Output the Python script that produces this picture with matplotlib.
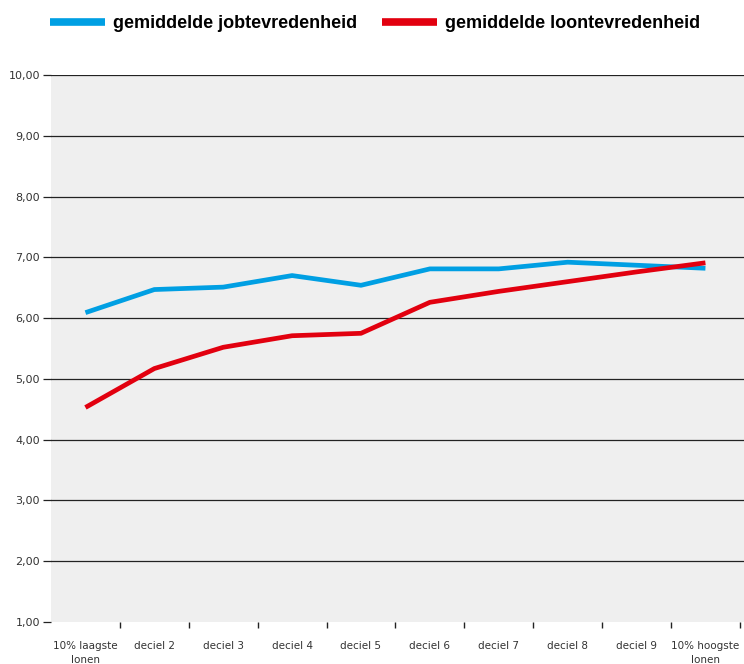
import numpy as np
import matplotlib.pyplot as plt
from matplotlib.lines import Line2D

# tevredenheid per loondeciel
categories = ['10% laagste\nlonen', 'deciel 2', 'deciel 3', 'deciel 4', 'deciel 5',
              'deciel 6', 'deciel 7', 'deciel 8', 'deciel 9', '10% hoogste\nlonen']
job = [6.09, 6.47, 6.51, 6.70, 6.54, 6.81, 6.81, 6.92, 6.87, 6.82]
loon = [4.53, 5.17, 5.52, 5.71, 5.75, 6.26, 6.44, 6.60, 6.76, 6.91]
yticks = [1, 2, 3, 4, 5, 6, 7, 8, 9, 10]

blue = '#009fe3'
red = '#e2000f'

fig = plt.figure(figsize=(7.44, 6.64), dpi=100)
ax = fig.add_axes([51/744, 42/664, 693/744, 547/664])
ax.set_facecolor('#efefef')

x = np.arange(len(categories))
for v in yticks[1:]:
    ax.axhline(v, color='#222222', lw=0.9, zorder=1)

ax.plot(x, job, color=blue, lw=3.4, zorder=3, solid_capstyle='butt')
ax.plot(x, loon, color=red, lw=3.4, zorder=4, solid_capstyle='butt')

ax.set_xlim(-0.5, 9.56)
ax.set_ylim(1, 10)
for s in ax.spines.values():
    s.set_visible(False)

ax.set_yticks(yticks)
ax.set_yticklabels([f'{v:.2f}'.replace('.', ',') for v in yticks])
ax.tick_params(axis='y', length=6, width=0.9, color='#222222', pad=2,
               labelsize=8, labelcolor='#333333')

ax.set_xticks(x)
ax.set_xticklabels(categories)
ax.set_xticks(np.arange(0.5, 10, 1), minor=True)
ax.tick_params(axis='x', which='major', length=0, pad=14, labelsize=7.5,
               labelcolor='#333333')
ax.tick_params(axis='x', which='minor', length=4.5, width=1, color='#222222')
for lbl in ax.get_xticklabels():
    lbl.set_linespacing(1.4)

handles = [Line2D([], [], color=blue, lw=5.5, solid_capstyle='butt'),
           Line2D([], [], color=red, lw=5.5, solid_capstyle='butt')]
fig.legend(handles, ['gemiddelde jobtevredenheid', 'gemiddelde loontevredenheid'],
           loc='center left', bbox_to_anchor=(50/744, 1 - 24/664), ncol=2,
           frameon=False, borderpad=0, borderaxespad=0,
           handlelength=3.05, handletextpad=0.44, columnspacing=1.39,
           prop={'family': ['Liberation Sans Narrow', 'Liberation Sans'],
                 'weight': 'bold', 'size': 13})

plt.savefig('out.png', dpi=100)
